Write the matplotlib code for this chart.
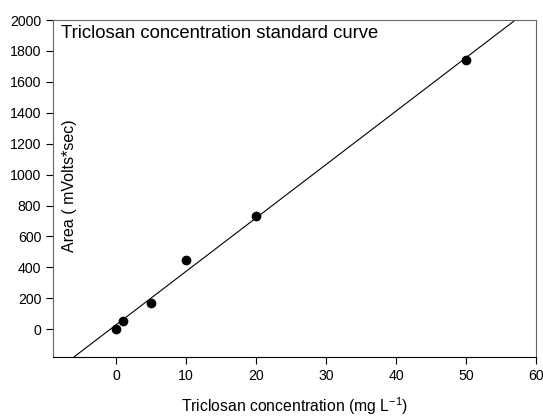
import numpy as np
import matplotlib.pyplot as plt

plt.rcParams['font.family'] = ['Liberation Sans', 'DejaVu Sans']

conc = [0, 1, 5, 10, 20, 50]
area = [0, 50, 170, 450, 730, 1740]
xticks = [0, 10, 20, 30, 40, 50, 60]
yticks = [0, 200, 400, 600, 800, 1000, 1200, 1400, 1600, 1800, 2000]

fig = plt.figure(figsize=(5.43, 4.16), dpi=100)
ax = fig.add_axes([53/543, 1-357/416, 483/543, 337/416])

# linear fit for the standard curve
slope, icpt = np.polyfit(conc, area, 1)
xl = np.array([-9, 60])
ax.plot(xl, slope*xl + icpt, color='black', lw=0.8)
ax.plot(conc, area, 'o', color='black', markersize=6)

ax.set_xlim(-9, 60)
ax.set_ylim(-180, 2000)
ax.set_xticks(xticks)
ax.set_yticks(yticks)
ax.tick_params(labelsize=10.2, direction='out', length=5, width=0.8)

for s in ['left', 'top', 'right']:
    ax.spines[s].set_color('#666666')
ax.spines['bottom'].set_color('black')

ax.set_xlabel('Triclosan concentration (mg L$^{\\mathregular{-1}}$)', fontsize=11.3, va='baseline')
ax.xaxis.set_label_coords(0.5, -0.163)
ax.set_ylabel('Area ( mVolts*sec)', fontsize=11.5)
ax.yaxis.set_label_coords(0.05, 0.509)
ax.text(0.017, 0.985, 'Triclosan concentration standard curve', transform=ax.transAxes,
        fontsize=13.3, va='top', ha='left')

plt.savefig('out.png', dpi=100)
